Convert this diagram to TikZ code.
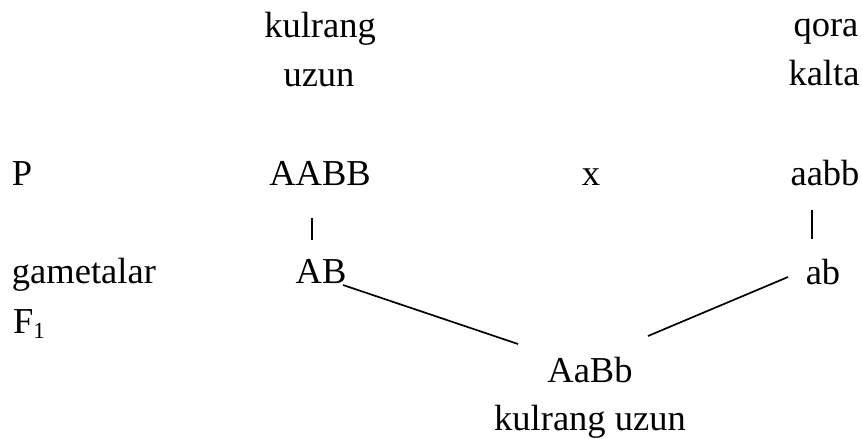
\documentclass[tikz,border=0pt]{standalone}
\usepackage{fontspec}
\setmainfont{Liberation Serif}
\begin{document}
\begin{tikzpicture}[x=1pt,y=-1pt,
  txt/.style={inner sep=0pt,outer sep=0pt,anchor=base,font=\fontsize{36.5}{44}\selectfont},
  txtl/.style={txt,anchor=base west},
  link/.style={line width=1.7pt,black},
  tick/.style={line width=1.8pt,black}]
\useasboundingbox (0,0) rectangle (862,439);
% left parent
\node[txt] (k1) at (320,37) {kulrang};
\node[txt] (u1) at (319,86) {uzun};
% right parent
\node[txt] (q2) at (826,36) {qora};
\node[txt] (k2) at (824,85) {kalta};
% P row
\node[txtl] (P) at (12,185) {P};
\node[txt] (AABB) at (320,185) {AABB};
\node[txt] (x) at (591,185) {x};
\node[txt] (aabb) at (825,185) {aabb};
% ticks
\coordinate (t1a) at (312,218);
\coordinate (t1b) at (312,240);
\coordinate (t2a) at (812,210);
\coordinate (t2b) at (812,239);
\draw[tick] (t1a) -- (t1b);
\draw[tick] (t2a) -- (t2b);
% gametes
\node[txtl] (gam) at (12,283) {gametalar};
\node[txt] (AB) at (321,283) {AB};
\node[txt] (ab) at (823,284) {ab};
\node[txtl] (F1) at (13,333) {F\raisebox{-5pt}{\fontsize{23}{23}\selectfont 1}};
% offspring
\node[txt] (AaBb) at (590,382) {AaBb};
\node[txt] (ku) at (590,430) {kulrang uzun};
% connectors
\coordinate (l1) at (343,285);
\coordinate (l2) at (518,344);
\coordinate (r1) at (788,277);
\coordinate (r2) at (648,336);
\draw[link] (l1) -- (l2);
\draw[link] (r1) -- (r2);
\end{tikzpicture}
\end{document}
